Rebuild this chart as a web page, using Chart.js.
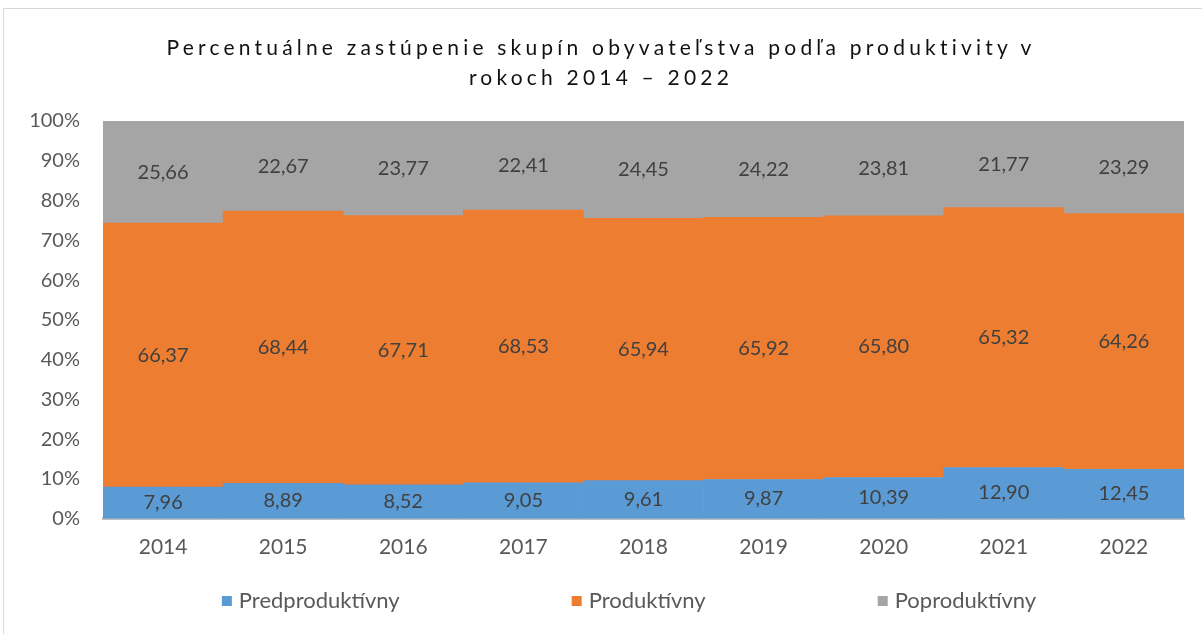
<!DOCTYPE html>
<html>
<head>
<meta charset="utf-8">
<script src="https://cdn.jsdelivr.net/npm/chart.js@4/dist/chart.umd.min.js"></script>
<style>
    html, body { margin: 0; padding: 0; background: #fff; overflow: hidden; }
    #wrap { position: relative; width: 1202px; height: 634px; }
    #frame { position: absolute; left: 3px; top: 8px; width: 1400px; height: 800px; border: 1px solid #d9d9d9; pointer-events: none; }
    #title {
        position: absolute; left: 0; top: 32px; width: 1202px; text-align: center;
        font-family: Lato, "Open Sans", sans-serif; font-size: 21px; letter-spacing: 4.2px;
        line-height: 30px; color: #111;
    }
    canvas { position: absolute; left: 0; top: 0; }
</style>
</head>
<body>
<div id="wrap">
    <canvas id="chart" width="1202" height="634"></canvas>
    <div id="frame"></div>
    <div id="title">Percentuálne zastúpenie skupín obyvateľstva podľa produktivity v<br>rokoch 2014 – 2022</div>
</div>
<script>
const years = ['2014', '2015', '2016', '2017', '2018', '2019', '2020', '2021', '2022'];
const preproductive = [7.96, 8.89, 8.52, 9.05, 9.61, 9.87, 10.39, 12.90, 12.45];
const productive = [66.37, 68.44, 67.71, 68.53, 65.94, 65.92, 65.80, 65.32, 64.26];
const postproductive = [25.66, 22.67, 23.77, 22.41, 24.45, 24.22, 23.81, 21.77, 23.29];
const yTicks = [0, 10, 20, 30, 40, 50, 60, 70, 80, 90, 100];

const fontFamily = 'Lato, "Open Sans", sans-serif';

// draws the value in the middle of each bar segment
const segmentLabels = {
    id: 'segmentLabels',
    afterDatasetsDraw(chart) {
        const ctx = chart.ctx;
        ctx.save();
        ctx.font = '20px ' + fontFamily;
        ctx.fillStyle = '#404040';
        ctx.textAlign = 'center';
        ctx.textBaseline = 'middle';
        chart.data.datasets.forEach((ds, i) => {
            chart.getDatasetMeta(i).data.forEach((bar, j) => {
                const p = bar.getCenterPoint();
                ctx.fillText(ds.data[j].toFixed(2).replace('.', ','), p.x, p.y);
            });
        });
        ctx.restore();
    }
};

// wide-spaced legend row under the axis (built-in legend pads vertically too)
const wideLegend = {
    id: 'wideLegend',
    afterDraw(chart) {
        const ctx = chart.ctx;
        const gap = 172, box = 10, y = 601, centerX = 629;
        ctx.save();
        ctx.font = '22px ' + fontFamily;
        ctx.textBaseline = 'middle';
        const items = chart.data.datasets.map(ds => ({
            text: ds.label, color: ds.backgroundColor, w: box + 7 + ctx.measureText(ds.label).width
        }));
        const total = items.reduce((s, it) => s + it.w, 0) + gap * (items.length - 1);
        let x = centerX - total / 2;
        items.forEach(it => {
            ctx.fillStyle = it.color;
            ctx.fillRect(x, y - box / 2, box, box);
            ctx.fillStyle = '#595959';
            ctx.fillText(it.text, x + box + 7, y);
            x += it.w + gap;
        });
        ctx.restore();
    }
};

document.addEventListener('DOMContentLoaded', () => {
    const ctx = document.getElementById('chart').getContext('2d');
    new Chart(ctx, {
        type: 'bar',
        data: {
            labels: years,
            datasets: [
                { label: 'Predproduktívny', data: preproductive, backgroundColor: '#5b9bd5' },
                { label: 'Produktívny', data: productive, backgroundColor: '#ed7d31' },
                { label: 'Poproduktívny', data: postproductive, backgroundColor: '#a5a5a5' }
            ]
        },
        options: {
            responsive: false,
            animation: false,
            layout: { padding: { left: 3, right: 18, top: 121, bottom: 66 } },
            datasets: {
                bar: { barPercentage: 1, categoryPercentage: 1, borderWidth: 0 }
            },
            scales: {
                x: {
                    stacked: true,
                    grid: { display: false },
                    border: { display: true, color: '#bfbfbf', width: 3 },
                    ticks: { color: '#595959', font: { family: fontFamily, size: 21 }, padding: 8 }
                },
                y: {
                    stacked: true,
                    min: 0,
                    max: 100,
                    afterBuildTicks: axis => { axis.ticks = yTicks.map(v => ({ value: v })); },
                    afterFit: axis => { axis.width = 100; },
                    grid: { color: '#d9d9d9', lineWidth: 1, drawTicks: false },
                    border: { display: false },
                    ticks: {
                        color: '#595959', padding: 23,
                        font: { family: fontFamily, size: 20 },
                        callback: v => v + '%'
                    }
                }
            },
            plugins: {
                title: { display: false },
                tooltip: { enabled: false },
                legend: { display: false }
            }
        },
        plugins: [segmentLabels, wideLegend]
    });
});
</script>
</body>
</html>
